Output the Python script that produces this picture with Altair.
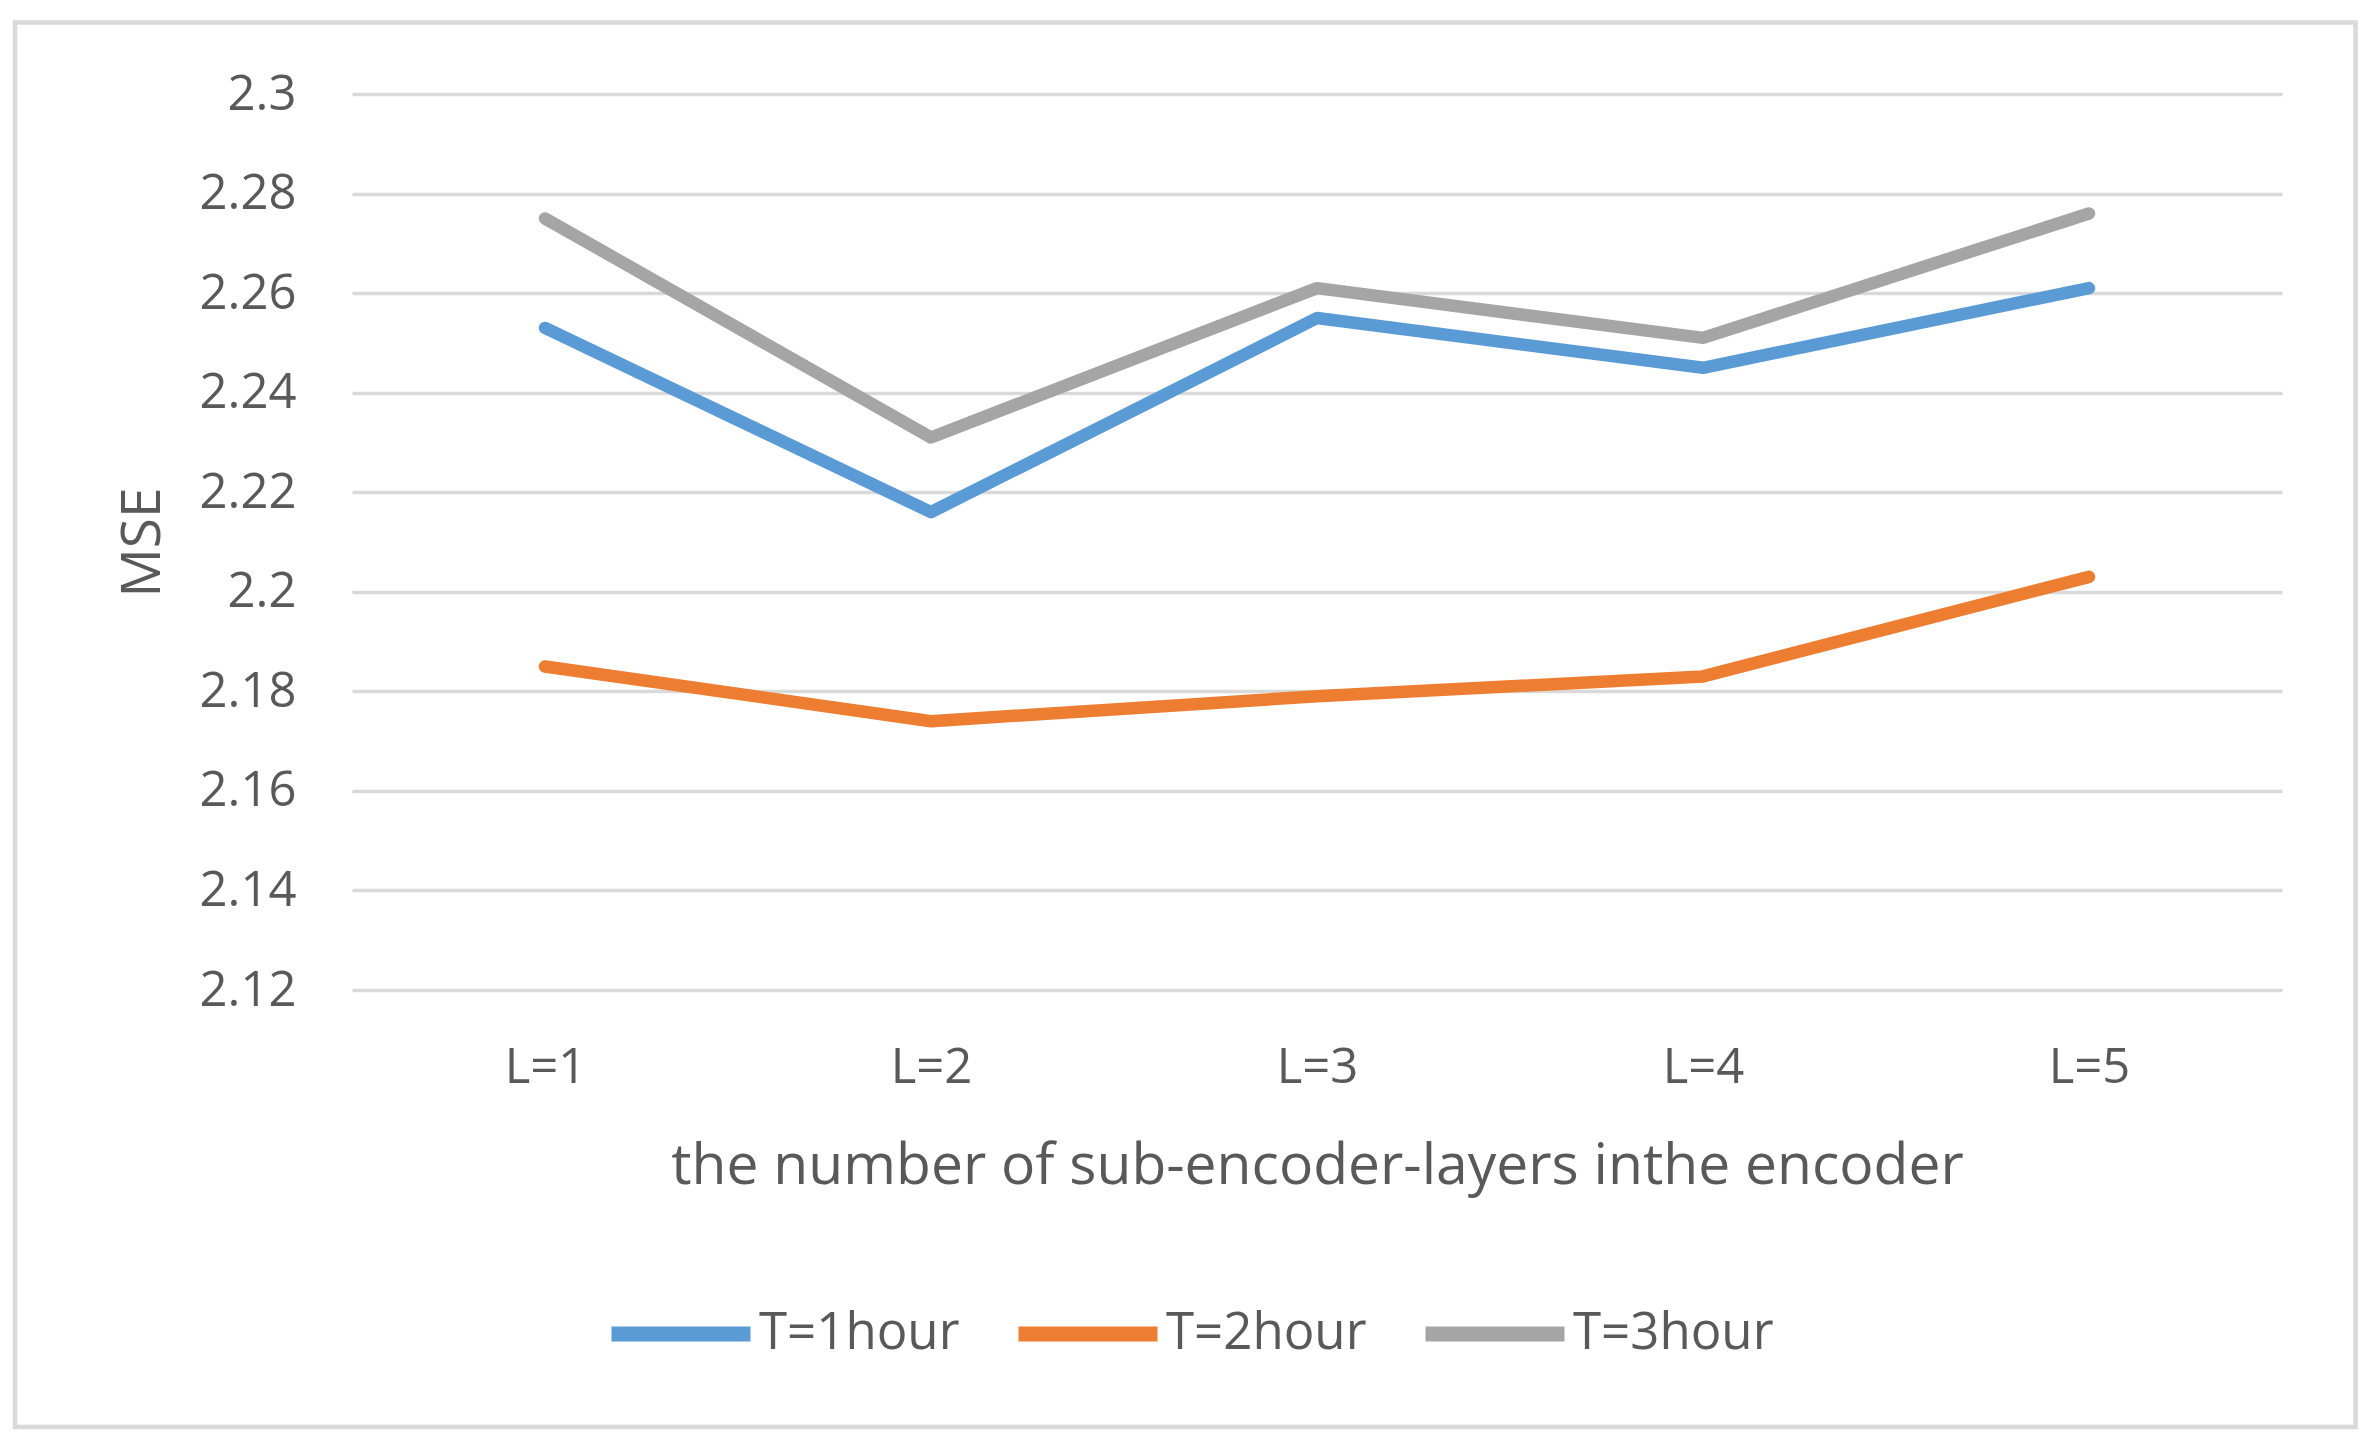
import altair as alt
import pandas as pd

categories = ["L=1", "L=2", "L=3", "L=4", "L=5"]
series_names = ["T=1hour", "T=2hour", "T=3hour"]
t1_values = [2.253, 2.216, 2.255, 2.245, 2.261]
t2_values = [2.185, 2.174, 2.179, 2.183, 2.203]
t3_values = [2.275, 2.231, 2.261, 2.251, 2.276]
series_colors = ["#5B9BD5", "#ED7D31", "#A5A5A5"]
y_tick_values = [2.12, 2.14, 2.16, 2.18, 2.2, 2.22, 2.24, 2.26, 2.28, 2.3]
x_title = "the number of sub-encoder-layers inthe encoder"
y_title = "MSE"

rows = []
for name, vals in zip(series_names, [t1_values, t2_values, t3_values]):
    for cat, v in zip(categories, vals):
        rows.append({"layer": cat, "series": name, "mse": v})
df = pd.DataFrame(rows)

FONT = "Open Sans"
TEXT = "#595959"
GRID = "#D9D9D9"

lines = alt.Chart(df).mark_line(
    strokeWidth=12.5, strokeCap="round", strokeJoin="round"
).encode(
    x=alt.X(
        "layer:N",
        sort=categories,
        scale=alt.Scale(type="point", padding=0.5),
        axis=alt.Axis(
            title=x_title,
            grid=False,
            domain=False,
            ticks=False,
            tickSize=0,
            labelAngle=0,
            labelFont=FONT,
            labelFontSize=49,
            labelColor=TEXT,
            labelPadding=53,
            labelBaseline="top",
            titleFont=FONT,
            titleFontSize=57,
            titleFontWeight="normal",
            titleColor=TEXT,
            titleBaseline="alphabetic",
            titleY=193,
        ),
    ),
    y=alt.Y(
        "mse:Q",
        scale=alt.Scale(domain=[2.12, 2.3], nice=False, zero=False),
        axis=alt.Axis(
            title=y_title,
            values=y_tick_values,
            format="~g",
            grid=True,
            gridColor=GRID,
            gridWidth=3.5,
            domain=False,
            ticks=False,
            tickSize=0,
            labelFont=FONT,
            labelFontSize=49,
            labelColor=TEXT,
            labelPadding=56,
            titleFont=FONT,
            titleFontSize=55,
            titleFontWeight="normal",
            titleColor=TEXT,
            titleAngle=270,
            titleAlign="center",
            titleBaseline="middle",
            titleX=-210,
            titleY=448,
        ),
    ),
    color=alt.Color(
        "series:N",
        scale=alt.Scale(domain=series_names, range=series_colors),
        legend=alt.Legend(
            title=None,
            orient="none",
            direction="horizontal",
            legendX=252,
            legendY=1163,
            symbolType="stroke",
            symbolSize=139 * 139,
            symbolStrokeWidth=15,
            labelFont=FONT,
            labelFontSize=51,
            labelColor=TEXT,
            labelOffset=1,
            labelLimit=600,
            columnPadding=28,
            padding=0,
        ),
    ),
)

frame = alt.Chart(alt.Data(values=[{"frame": 1}])).mark_rect(
    fill="transparent", stroke=GRID, strokeWidth=4.5
).encode(
    x=alt.value(-337),
    x2=alt.value(2003.5),
    y=alt.value(-71.5),
    y2=alt.value(1333),
)

chart = alt.layer(frame, lines).properties(
    width=1930,
    height=896,
    autosize=alt.AutoSizeParams(type="none"),
    padding={"left": 344, "top": 86, "right": 81, "bottom": 440},
    background="white",
).configure_view(strokeWidth=0)

chart.save("out.html", embed_options={"renderer": "svg", "actions": False})
